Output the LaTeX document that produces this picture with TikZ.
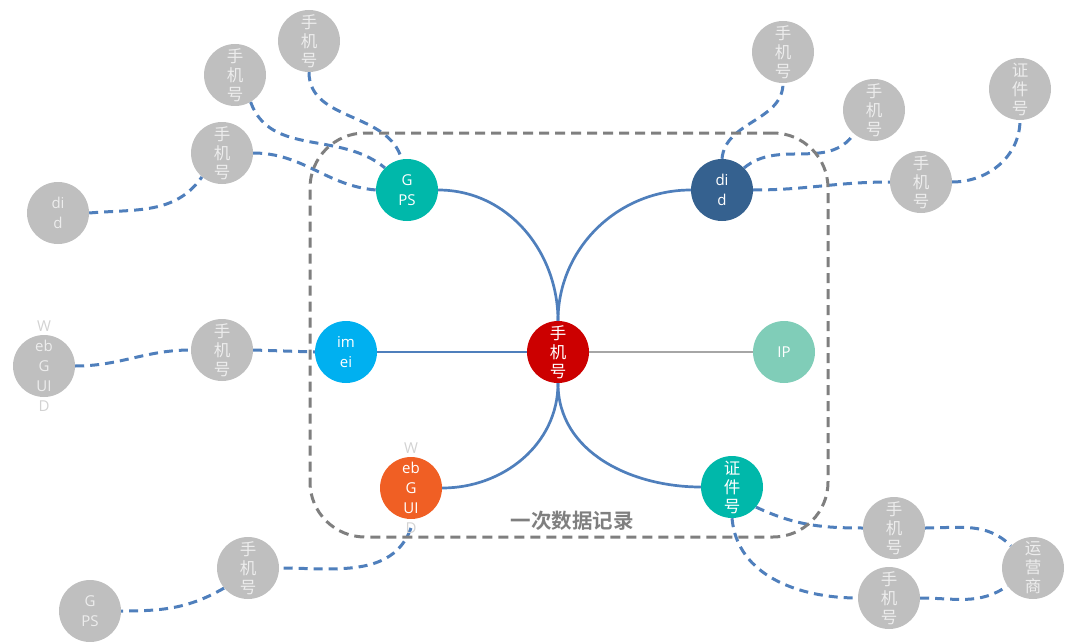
\documentclass[tikz,border=0pt]{standalone}
\usepackage{fontspec}
\setmainfont{Open Sans}
\newfontfamily\cjk{Noto Sans CJK SC}
\newfontfamily\cjkb{Noto Sans CJK SC Bold}
\usetikzlibrary{backgrounds}
\definecolor{cred}{HTML}{CC0000}
\definecolor{cteal}{HTML}{00B8AA}
\definecolor{cdblue}{HTML}{35618F}
\definecolor{clblue}{HTML}{00B0F0}
\definecolor{cmint}{HTML}{80CDB8}
\definecolor{corange}{HTML}{F05F24}
\definecolor{ngray}{HTML}{BFBFBF}
\definecolor{ntext}{HTML}{EDEDED}
\definecolor{wd}{HTML}{D2D2D2}
\definecolor{lblue}{HTML}{4F7FBC}
\definecolor{lgray}{HTML}{A6A6A6}
\definecolor{boxgray}{HTML}{7F7F7F}
\tikzset{
  circ/.style={circle, minimum size=62pt, inner sep=0pt, align=center, text=white},
  cj/.style={circ, font=\cjk\fontsize{16.5}{19}\selectfont},
  lt/.style={circ, font=\fontsize{15}{20}\selectfont},
  gcj/.style={cj, fill=ngray, text=ntext},
  glt/.style={lt, fill=ngray, text=ntext},
  overtext/.style={inner sep=0pt, align=center, font=\fontsize{15}{20}\selectfont},
  solidlink/.style={draw=lblue, line width=2.7pt},
  dlink/.style={draw=lblue, line width=3pt, dash pattern=on 9pt off 6pt},
  recbox/.style={draw=boxgray, line width=3pt, dash pattern=on 10pt off 6pt, rounded corners=55pt, minimum width=518pt, minimum height=404pt, inner sep=0pt}
}
\begin{document}
\begin{tikzpicture}[x=1pt,y=-1pt]
\useasboundingbox (0,0) rectangle (1080,642);
\node[recbox] (rec) at (569,335) {};
\node[font=\cjkb\fontsize{20.5}{22}\selectfont, text=boxgray] (lbl) at (572,521) {一次数据记录};
% center and main nodes
\node[cj, fill=cred] (c) at (558,352) {手\\机\\号};
\node[lt, fill=cteal] (gps) at (407,190) {G\\PS};
\node[lt, fill=cdblue] (did) at (722,190) {di\\d};
\node[lt, fill=clblue] (imei) at (346,352) {im\\ei};
\node[lt, fill=cmint] (ip) at (784,352) {IP};
\node[lt, fill=corange] (wo) at (411,488) {};
\node[overtext, text=white] (wot) at (411,488) {\textcolor{wd}{W}\\eb\\G\\UI\\\textcolor{wd}{D}};
\node[cj, fill=cteal] (zj) at (732,487) {证\\件\\号};
% gray nodes
\node[gcj] (n1) at (309,41) {手\\机\\号};
\node[gcj] (n2) at (235,75) {手\\机\\号};
\node[gcj] (n3) at (222,153) {手\\机\\号};
\node[glt] (didg) at (58,213) {di\\d};
\node[gcj] (n4) at (783,52) {手\\机\\号};
\node[gcj] (n5) at (874,110) {手\\机\\号};
\node[gcj] (zjg) at (1020,89) {证\\件\\号};
\node[gcj] (n6) at (921,182) {手\\机\\号};
\node[glt] (wg) at (44,366) {};
\node[overtext, text=ntext] (wgt) at (44,366) {\textcolor{wd}{W}\\eb\\G\\UI\\\textcolor{wd}{D}};
\node[gcj] (n7) at (222,350) {手\\机\\号};
\node[gcj] (n8) at (248,568) {手\\机\\号};
\node[glt] (gpsg) at (90,611) {G\\PS};
\node[gcj] (n9) at (894,528) {手\\机\\号};
\node[gcj] (yys) at (1033,568) {运\\营\\商};
\node[gcj] (n10) at (889,598) {手\\机\\号};
\coordinate (woD) at (411,528);
\begin{scope}[on background layer]
% solid links
\draw[solidlink] (c.north) to[out=90,in=0] (gps.east);
\draw[solidlink] (c.north) to[out=90,in=180] (did.west);
\draw[solidlink] (c.south) to[out=-90,in=0] (wo.east);
\draw[solidlink] (c.south) to[out=-90,in=180] (zj.west);
\draw[solidlink] (imei.east) -- (c.west);
\draw[draw=lgray, line width=2.7pt] (c.east) -- (ip.west);
% dashed links
\draw[dlink] (n1.south) to[out=-90,in=105] (gps.100);
\draw[dlink] (n2.-60) to[out=-70,in=140] (gps.135);
\draw[dlink] (n3.east) to[out=0,in=175] (gps.west);
\draw[dlink] (didg.east) to[out=5,in=-125] (n3.-130);
\draw[dlink] (did.north) to[out=85,in=-90] (n4.south);
\draw[dlink] (did.45) to[out=40,in=-125] (n5.-130);
\draw[dlink] (did.east) to[out=0,in=180] (n6.west);
\draw[dlink] (n6.east) to[out=0,in=-90] (zjg.south);
\draw[dlink] (wg.east) to[out=0,in=180] (n7.west);
\draw[dlink] (n7.east) -- (imei.west);
\draw[dlink] (woD) to[out=-110,in=0] (n8.east);
\draw[dlink] (n8.-140) to[out=-150,in=0] (gpsg.east);
\draw[dlink] (zj.-40) to[out=-25,in=180] (n9.west);
\draw[dlink] (zj.south) to[out=-85,in=180] (n10.west);
\draw[dlink] (n9.east) to[out=0,in=135] (yys.135);
\draw[dlink] (n10.east) to[out=0,in=-145] (yys.-145);
\end{scope}
\end{tikzpicture}
\end{document}
